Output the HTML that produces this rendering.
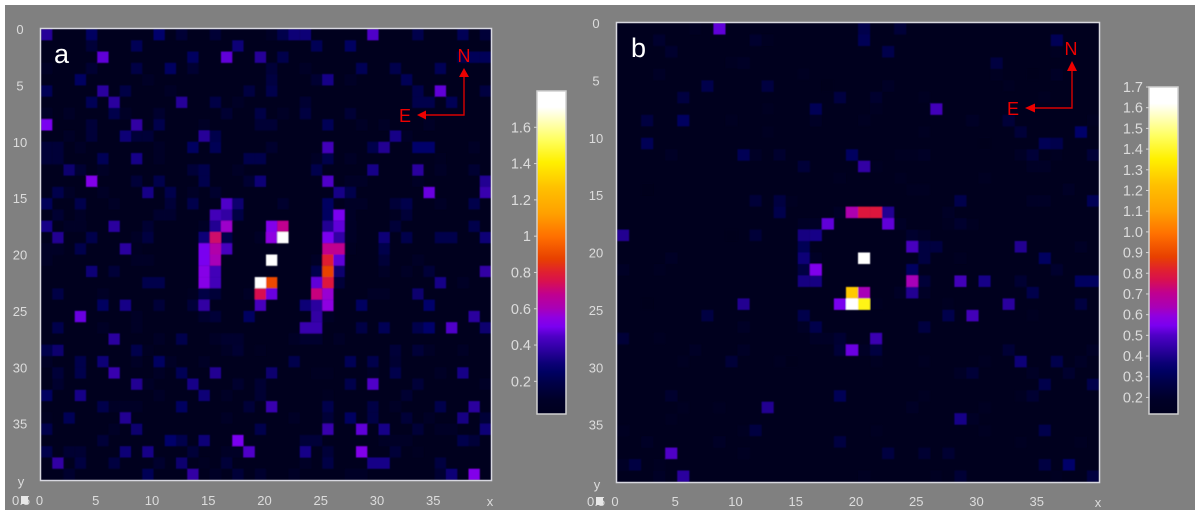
<!DOCTYPE html>
<html lang="en">
<head>
<meta charset="utf-8">
<title>Heatmap panels a and b</title>
<style>
html,body{margin:0;padding:0;background:#fff;width:1200px;height:515px;overflow:hidden}
svg{display:block;font-family:"Liberation Sans",sans-serif}
.tick{fill:#dcdcdc;font-size:13px;text-anchor:middle}
.cb{fill:#dcdcdc;font-size:14.5px;text-anchor:end}
.dir{fill:#ee0000;font-size:18px;text-anchor:middle}
.pl{fill:#fff;font-size:27px}
</style>
</head>
<body>
<svg id="figure" width="1200" height="515" viewBox="0 0 1200 515" xmlns="http://www.w3.org/2000/svg">
<defs>
<filter id="soft" x="-2%" y="-2%" width="104%" height="104%"><feGaussianBlur stdDeviation="0.4"/></filter>
<linearGradient id="cmap" x1="0" y1="1" x2="0" y2="0"></linearGradient>
</defs>
<rect x="5" y="5" width="1190" height="505" fill="#808080"/>

<g id="panelA"></g>
<g id="panelB"></g>

<text class="pl" x="54" y="63">a</text>
<text class="pl" x="631" y="57">b</text>

<g>
<text class="dir" x="464" y="62">N</text>
<text class="dir" x="405" y="122">E</text>
<path d="M464 76V115H425" fill="none" stroke="#d80000" stroke-width="1.4"/>
<path d="M464 68l5 9h-10z" fill="#ee0000"/>
<path d="M417 115l9-4.500v9z" fill="#ee0000"/>
</g>
<g>
<text class="dir" x="1071" y="55">N</text>
<text class="dir" x="1013" y="115">E</text>
<path d="M1072 69V108H1034" fill="none" stroke="#d80000" stroke-width="1.4"/>
<path d="M1072 61l5 10h-10z" fill="#ee0000"/>
<path d="M1025 108l10-4.500v9z" fill="#ee0000"/>
</g>
</svg>

<script>
// Colormap
const colormapPositions = [0,.045,.1,.13,.157,.185,.213,.24,.27,.3,.326,.37,.41,.44,.48,.55,.62,.7,.78,.85,.95,1];
const colormapColors = ['#00001e','#000028','#00004a','#000062','#0c0076','#220092','#3800ae','#4e00c6','#7a00f0','#9000e0','#a800b8','#c00090','#d81050','#e02030','#e84000','#ff7000','#ffa000','#ffc000','#fff000','#ffff60','#ffffff','#ffffff'];

// Shared axis labels
const axisTicks = [0,5,10,15,20,25,30,35];
const gridSize = 40;

// Panel a: one list per image row, as column,value pairs
const panelARows = [
[0,.36,4,.25,10,.27,12,.14,15,.14,20,.1,21,.2,22,.3,23,.3,29,.45,33,.2,37,.22,39,.15],
[4,.15,8,.22,17,.3,24,.22,27,.25],
[5,.47,13,.25,16,.47,19,.36,21,.2,37,.2,38,.23,39,.23],
[0,.1,4,.13,8,.18,11,.25,13,.13,20,.15,23,.1,28,.22,31,.2,35,.22],
[3,.25,9,.1,20,.17,24,.13,25,.33,27,.1,32,.22],
[0,.22,5,.37,7,.18,11,.1,18,.17,20,.2,33,.2,35,.47,39,.17],
[4,.22,6,.37,12,.36,15,.18,17,.1,23,.13,33,.2,34,.2,36,.22],
[0,.1,2,.1,6,.2,7,.1,10,.12,16,.13,19,.18,21,.1,23,.17,27,.14],
[0,.5,4,.15,8,.38,10,.2,14,.1,19,.14,20,.14,25,.22,28,.1,30,.1,34,.1],
[2,.1,4,.15,7,.3,8,.15,9,.15,14,.36,15,.2,31,.33,32,.1],
[0,.15,1,.15,3,.08,10,.1,13,.25,15,.22,20,.12,25,.42,29,.2,30,.35,33,.27,34,.27,38,.1],
[0,.15,1,.15,5,.22,8,.33,10,.1,18,.2,19,.2,24,.1,25,.2,27,.1,35,.05],
[2,.28,3,.13,5,.1,13,.15,14,.2,17,.1,24,.2,29,.33,33,.37,35,.1,38,.13],
[4,.52,8,.15,10,.2,14,.2,18,.13,19,.3,25,.45,27,.1,28,.1,33,.1,39,.35],
[1,.2,2,.1,5,.1,9,.33,11,.2,13,.1,15,.12,26,.33,27,.2,34,.48,39,.4],
[0,.23,3,.2,6,.1,11,.15,13,.2,16,.45,17,.28,21,.12,25,.25,27,.1,28,.1,31,.15,32,.2,35,.1,38,.2],
[1,.13,3,.08,10,.12,11,.12,15,.42,16,.38,17,.18,25,.25,26,.5,27,.08,31,.07,32,.15],
[0,.33,2,.1,3,.1,6,.37,9,.13,14,.08,15,.35,16,.58,20,.52,21,.68,25,.35,26,.47,27,.1,31,.15,38,.2],
[1,.35,4,.2,8,.1,9,.17,14,.3,15,.72,16,.2,19,.1,20,.55,21,1.8,25,.5,26,.38,27,.1,30,.3,32,.2,35,.2,36,.2,39,.3],
[0,.1,1,.1,3,.2,7,.37,8,.05,14,.5,15,.63,16,.43,25,.68,26,.68,27,.05,30,.2],
[0,.1,8,.1,9,.1,14,.5,15,.6,20,1.8,24,.1,25,.8,26,.47,30,.15,33,.1],
[4,.3,6,.15,14,.53,15,.42,24,.2,25,.88,26,.28,30,.1,32,.1,34,.15,39,.38],
[9,.2,10,.2,14,.53,15,.42,19,1.8,20,.9,24,.47,25,.78,26,.15,35,.33,37,.1],
[1,.18,5,.1,13,.07,14,.18,15,.15,18,.1,19,.75,20,.48,24,.7,25,.57,29,.08,30,.08,33,.28],
[5,.25,7,.33,10,.15,13,.15,14,.38,19,.43,23,.3,24,.37,25,.55,28,.25,34,.27],
[3,.48,8,.1,14,.12,15,.15,18,.25,24,.38,25,.1,38,.37],
[1,.2,5,.1,8,.08,23,.4,24,.4,28,.18,30,.22,33,.2,34,.27,36,.45,39,.28],
[6,.37,10,.1,12,.2,15,.1,16,.12,17,.12,22,.1,23,.12,24,.12,26,.1],
[0,.2,1,.28,8,.2,9,.07,16,.1,17,.13,19,.07,31,.15,33,.15,34,.08,37,.08],
[0,.1,3,.2,5,.3,8,.1,10,.25,11,.1,14,.1,22,.2,27,.22,29,.2,31,.13],
[1,.15,3,.2,6,.4,10,.1,12,.22,15,.35,20,.28,24,.05,25,.05,29,.1,31,.2,35,.1,37,.33],
[1,.12,8,.35,9,.1,13,.33,17,.12,19,.13,27,.2,29,.45,33,.15,39,.1],
[0,.25,3,.33,10,.1,14,.3,16,.1,19,.13,25,.05,32,.13],
[5,.2,6,.1,7,.1,8,.1,12,.25,18,.15,20,.4,25,.2,29,.18,31,.1,35,.2,38,.37],
[0,.06,2,.22,7,.35,16,.1,22,.1,25,.15,27,.25,29,.18,32,.15,34,.08,37,.32,39,.15],
[0,.2,6,.1,8,.28,19,.2,25,.4,28,.47,30,.33,33,.15,35,.1,36,.1,39,.3],
[5,.15,11,.27,12,.2,14,.3,17,.5,23,.15,24,.15,30,.1,31,.1,32,.1,37,.2,38,.15],
[0,.2,2,.13,3,.13,7,.3,9,.33,13,.15,16,.1,17,.1,18,.45,23,.33,25,.15,28,.52,31,.15,33,.05],
[1,.38,3,.17,6,.17,10,.12,12,.28,14,.07,16,.15,23,.1,25,.18,29,.33,30,.33,35,.17],
[2,.12,9,.22,13,.38,15,.1,17,.15,19,.12,22,.1,27,.08,28,.08,35,.13,36,.3,38,.52]
];

// Panel b: one list per image row, as column,value pairs
const panelBRows = [
[6,.16,8,.52,20,.28,23,.235],
[3,.21,11,.21,12,.155,20,.3,36,.3],
[4,.21,22,.28,36,.155],
[9,.14,10,.19,31,.25],
[3,.17,15,.14,31,.16,34,.13,36,.19],
[7,.28,12,.25,17,.13,22,.19,32,.16],
[5,.25,18,.25,21,.21,25,.155,35,.155],
[12,.15,16,.3,21,.15,26,.475],
[2,.25,5,.32,9,.16,16,.17,20,.14,29,.19,32,.235,39,.16],
[12,.14,25,.16,33,.235,38,.34],
[2,.3,30,.13,35,.3,36,.28],
[4,.17,10,.3,11,.19,13,.21,19,.32,23,.15,24,.15,25,.19,33,.17,34,.235,36,.16,39,.235],
[15,.235,20,.44,21,.15,34,.19,35,.19],
[18,.155,23,.15,30,.16],
[2,.13,24,.15,25,.15,37,.17],
[11,.235,13,.25,14,.155,28,.28,34,.19,35,.19,39,.3],
[13,.28,18,.19,19,.65,20,.795,21,.795,22,.41,27,.19],
[15,.17,16,.17,17,.52,22,.52,23,.17,27,.16,28,.21,29,.155],
[0,.41,9,.13,11,.235,15,.385,16,.395,24,.21,25,.17],
[15,.3,24,.485,25,.25,26,.25,33,.41,38,.17],
[4,.19,15,.37,16,.19,20,1.7,25,.25,28,.16,35,.32],
[0,.19,3,.14,15,.26,16,.56,24,.32,36,.21],
[15,.385,16,.385,24,.635,25,.235,28,.475,30,.395,33,.22,38,.32,39,.32],
[19,1.25,20,.635,23,.19,24,.41,25,.19,34,.28],
[2,.13,10,.41,18,.545,19,1.7,20,1.38,21,.15,27,.14,32,.43,38,.25],
[7,.26,15,.28,27,.28,29,.475,34,.155],
[10,.17,15,.19,16,.28,25,.25],
[0,.235,3,.16,16,.17,17,.19,18,.22,21,.46],
[6,.19,10,.17,18,.235,19,.53,20,.19,21,.25,32,.225,39,.19],
[5,.14,9,.235,13,.15,14,.13,21,.14,25,.15,30,.16,33,.37,36,.28,38,.19],
[28,.17,29,.235,34,.19,37,.21],
[35,.28,39,.28],
[4,.21,18,.3,25,.15,33,.15,34,.22],
[5,.15,8,.14,12,.41,24,.19,30,.16],
[4,.15,28,.395,29,.19],
[0,.155,10,.14,11,.25,21,.14,30,.15,35,.28],
[2,.19,8,.19,18,.25,33,.15,38,.16],
[4,.5,10,.16,22,.25,25,.22,27,.22],
[0,.19,1,.26,3,.155,35,.26,37,.34],
[3,.17,5,.43,20,.155,26,.16,28,.225,36,.155,39,.25]
];

// Colour bar scales and printed tick labels
const panelADomain = [0.02, 1.8];
const panelBDomain = [0.12, 1.7];
const panelAColorTicks = [0.2,0.4,0.6,0.8,1,1.2,1.4,1.6];
const panelAColorLabels = ['0.2','0.4','0.6','0.8','1','1.2','1.4','1.6'];
const panelBColorTicks = [0.2,0.3,0.4,0.5,0.6,0.7,0.8,0.9,1.0,1.1,1.2,1.3,1.4,1.5,1.6,1.7];
const panelBColorLabels = ['0.2','0.3','0.4','0.5','0.6','0.7','0.8','0.9','1.0','1.1','1.2','1.3','1.4','1.5','1.6','1.7'];

const NS = 'http://www.w3.org/2000/svg';

function make(tag, attrs, parent, txt) {
  const el = document.createElementNS(NS, tag);
  for (const k in attrs) el.setAttribute(k, attrs[k]);
  if (txt !== undefined) el.textContent = txt;
  parent.appendChild(el);
  return el;
}
function hexRgb(h) {
  return [parseInt(h.slice(1,3),16), parseInt(h.slice(3,5),16), parseInt(h.slice(5,7),16)];
}
function colorAt(t) {
  t = Math.max(0, Math.min(1, t));
  for (let i = 1; i < colormapPositions.length; i++) {
    if (t <= colormapPositions[i]) {
      const a = colormapPositions[i-1], b = colormapPositions[i];
      const f = (t - a) / (b - a);
      const p = hexRgb(colormapColors[i-1]), q = hexRgb(colormapColors[i]);
      return 'rgb(' + [0,1,2].map(function (n) { return Math.round(p[n] + (q[n] - p[n]) * f); }).join(',') + ')';
    }
  }
  return colormapColors[colormapColors.length - 1];
}

const gradient = document.getElementById('cmap');
colormapPositions.forEach(function (pos, i) {
  const stop = make('stop', {offset: pos, 'stop-color': colormapColors[i]}, gradient);
  
  
});

function drawPanel(cfg) {
  const root = cfg.root;
  const xScale = function (c) { return cfg.left + c * (cfg.right - cfg.left) / gridSize; };
  const yScale = function (r) { return cfg.top + r * (cfg.bottom - cfg.top) / gridSize; };
  const tOf = function (v) { return (v - cfg.domain[0]) / (cfg.domain[1] - cfg.domain[0]); };

  const bg = make('rect', {x: cfg.left, y: cfg.top, width: cfg.right - cfg.left, height: cfg.bottom - cfg.top, fill: colorAt(0)}, root);
  
  

  const cells = make('g', {filter: 'url(#soft)'}, root);
  
  
  cfg.rows.forEach(function (list, r) {
    for (let i = 0; i < list.length; i += 2) {
      const c = list[i], v = list[i + 1];
      const cell = make('rect', {x: xScale(c), y: yScale(r), width: xScale(c + 1) - xScale(c) + 0.05, height: yScale(r + 1) - yScale(r) + 0.05, fill: colorAt(tOf(v))}, cells);
      
      
    }
  });

  const frame = make('rect', {x: cfg.left - 0.5, y: cfg.top - 0.5, width: cfg.right - cfg.left + 1, height: cfg.bottom - cfg.top + 1, fill: 'none', stroke: '#d8d8e0', 'stroke-width': 1.5}, root);
  
  

  axisTicks.forEach(function (t) {
    const yl = make('text', {class: 'tick', x: cfg.yLabelX, y: yScale(t) + cfg.yLabelDy}, root, String(t));
    
    
    const xl = make('text', {class: 'tick', x: xScale(t) + cfg.xLabelDx, y: cfg.xLabelY}, root, String(t));
    
    
  });

  const yTitle = make('text', {class: 'tick', x: cfg.yLabelX + 1, y: cfg.yTitleY}, root, 'y');
  
  
  const xTitle = make('text', {class: 'tick', x: cfg.right - 1, y: cfg.xLabelY + 1}, root, 'x');
  
  
  const origin = make('text', {class: 'tick', x: cfg.originX, y: cfg.xLabelY, style: 'text-anchor:start'}, root, '0.5');
  
  
  const mark = make('rect', {x: cfg.originX + 9, y: cfg.xLabelY - 9, width: 7, height: 8, fill: '#e8e8e8'}, root);
  
  

  const bar = make('rect', {x: cfg.barLeft, y: cfg.barTop, width: cfg.barRight - cfg.barLeft, height: cfg.barBottom - cfg.barTop, fill: 'url(#cmap)', stroke: '#d0d0d0', 'stroke-width': 1.5}, root);
  
  
  const barY = function (v) { return cfg.barBottom - tOf(v) * (cfg.barBottom - cfg.barTop); };
  cfg.colorTicks.forEach(function (v, i) {
    const y = barY(v);
    const tick = make('line', {x1: cfg.barLeft - 3, x2: cfg.barLeft, y1: y, y2: y, stroke: '#d6d6d6', 'stroke-width': 1}, root);
    
    
    const lab = make('text', {class: 'cb', x: cfg.barLeft - 6, y: y + 5}, root, cfg.colorLabels[i]);
    
    
  });
}

drawPanel({
  root: document.getElementById('panelA'), rows: panelARows, domain: panelADomain,
  left: 41, right: 491, top: 29, bottom: 480,
  yLabelX: 20, yLabelDy: 5, xLabelDx: -1.5, xLabelY: 505, yTitleY: 486, originX: 12,
  barLeft: 537, barRight: 566, barTop: 91, barBottom: 414,
  colorTicks: panelAColorTicks, colorLabels: panelAColorLabels
});
drawPanel({
  root: document.getElementById('panelB'), rows: panelBRows, domain: panelBDomain,
  left: 617, right: 1099, top: 23, bottom: 482,
  yLabelX: 596, yLabelDy: 5, xLabelDx: -2, xLabelY: 506, yTitleY: 489, originX: 587,
  barLeft: 1149, barRight: 1178, barTop: 87, barBottom: 414,
  colorTicks: panelBColorTicks, colorLabels: panelBColorLabels
});
</script>
</body>
</html>
